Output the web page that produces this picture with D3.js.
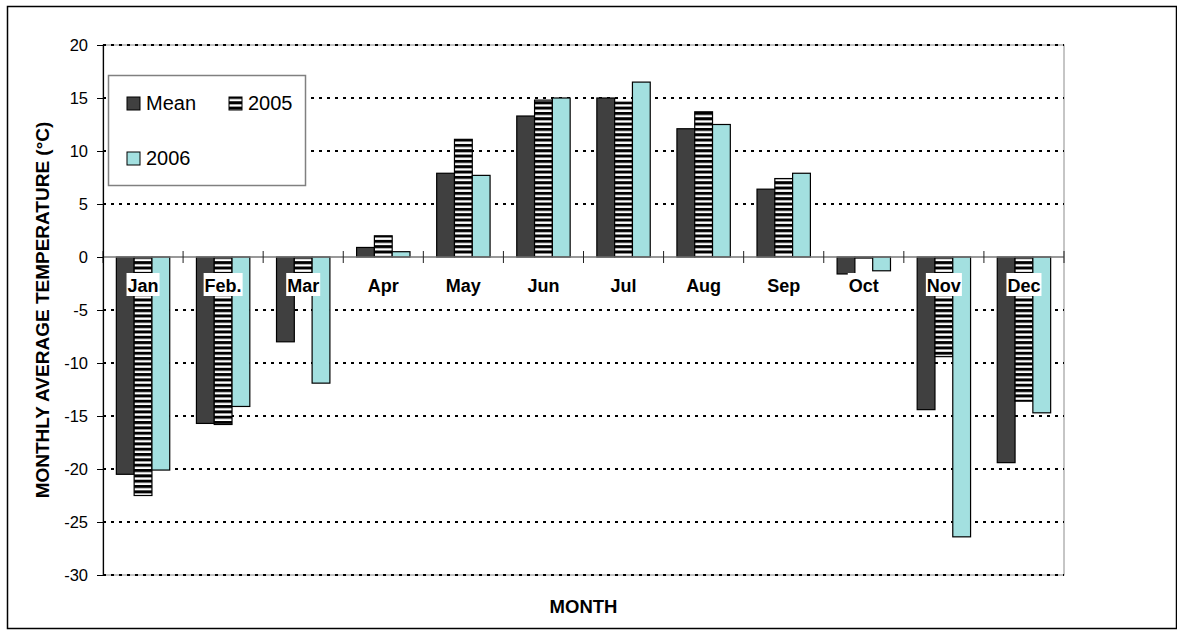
<!DOCTYPE html>
<html>
<head>
<meta charset="utf-8">
<script src="https://cdn.jsdelivr.net/npm/d3@7"></script>
<style>
  body { margin: 0; background: #fff; }
  svg { display: block; font-family: "Liberation Sans", Arial, sans-serif; }
</style>
</head>
<body>
<div id="viz"></div>
<script>
// monthly average temperature
const months = ["Jan", "Feb.", "Mar", "Apr", "May", "Jun", "Jul", "Aug", "Sep", "Oct", "Nov", "Dec"];
const seriesNames = ["Mean", "2005", "2006"];
const meanValues = [-20.5, -15.7, -8.0, 0.9, 7.9, 13.3, 15.0, 12.1, 6.4, -1.6, -14.4, -19.4];
const values2005 = [-22.5, -15.8, -3.0, 2.0, 11.1, 14.8, 14.6, 13.7, 7.4, -0.1, -9.4, -13.6];
const values2006 = [-20.1, -14.1, -11.9, 0.5, 7.7, 15.0, 16.5, 12.5, 7.9, -1.3, -26.4, -14.7];
const yTicks = [20, 15, 10, 5, 0, -5, -10, -15, -20, -25, -30];

const width = 1177, height = 636;
const plot = { left: 103, right: 1064, top: 45, bottom: 575 };

const svg = d3.select("#viz").append("svg")
    .attr("width", width)
    .attr("height", height);

const defs = svg.append("defs");
const stripes = defs.append("pattern")
    .attr("id", "stripes")
    .attr("patternUnits", "userSpaceOnUse")
    .attr("width", 10)
    .attr("height", 5.33);
stripes.append("rect").attr("width", 10).attr("height", 5.33).attr("fill", "#fff");
stripes.append("rect").attr("width", 10).attr("height", 3).attr("fill", "#000");

const fills = { "Mean": "#404040", "2005": "url(#stripes)", "2006": "#a3e0e0" };

// outer frame
svg.append("rect")
    .attr("x", 7.5).attr("y", 6.5)
    .attr("width", 1169).attr("height", 622)
    .attr("fill", "none").attr("stroke", "#000").attr("stroke-width", 1.5);

const x0 = d3.scaleBand()
    .domain(months)
    .range([plot.left, plot.right])
    .paddingInner(0).paddingOuter(0);

const x1 = d3.scaleBand()
    .domain(seriesNames)
    .range([0, x0.bandwidth()])
    .paddingInner(0).paddingOuter(0.75);

const y = d3.scaleLinear()
    .domain([-30, 20])
    .range([plot.bottom, plot.top]);

// plot area border
svg.append("rect")
    .attr("x", plot.left).attr("y", plot.top)
    .attr("width", plot.right - plot.left).attr("height", plot.bottom - plot.top)
    .attr("fill", "none").attr("stroke", "#8c8c8c").attr("stroke-width", 1);

// dotted gridlines
svg.append("g")
    .selectAll("line")
    .data(yTicks.filter(d => d !== 0))
    .join("line")
    .attr("x1", plot.left).attr("x2", plot.right)
    .attr("y1", d => y(d)).attr("y2", d => y(d))
    .attr("stroke", "#000")
    .attr("stroke-width", 2)
    .attr("stroke-dasharray", "3,5");

// bars
const rows = months.map((m, i) => ({
    month: m,
    vals: [
        { key: "Mean", v: meanValues[i] },
        { key: "2005", v: values2005[i] },
        { key: "2006", v: values2006[i] }
    ]
}));

svg.append("g")
    .selectAll("g")
    .data(rows)
    .join("g")
    .attr("transform", d => `translate(${x0(d.month)},0)`)
    .selectAll("rect")
    .data(d => d.vals)
    .join("rect")
    .attr("x", d => x1(d.key))
    .attr("width", x1.bandwidth())
    .attr("y", d => y(Math.max(0, d.v)))
    .attr("height", d => Math.abs(y(d.v) - y(0)))
    .attr("fill", d => fills[d.key])
    .attr("stroke", "#000")
    .attr("stroke-width", 1.2);

// x axis line at zero
svg.append("line")
    .attr("x1", plot.left).attr("x2", plot.right)
    .attr("y1", y(0)).attr("y2", y(0))
    .attr("stroke", "#777").attr("stroke-width", 1.5);

// category boundary ticks
svg.append("g")
    .selectAll("line")
    .data(months.concat(["end"]))
    .join("line")
    .attr("x1", (d, i) => plot.left + i * x0.step())
    .attr("x2", (d, i) => plot.left + i * x0.step())
    .attr("y1", y(0) - 6).attr("y2", y(0) + 6)
    .attr("stroke", "#222").attr("stroke-width", 1);

// y axis
const yAxis = svg.append("g")
    .attr("transform", `translate(${plot.left},0)`)
    .call(d3.axisLeft(y).tickValues(yTicks).tickFormat(d => String(d)).tickSize(6).tickPadding(9));
yAxis.select(".domain").attr("stroke", "#000").attr("stroke-width", 1.2);
yAxis.selectAll(".tick line").attr("stroke", "#000");
yAxis.selectAll(".tick text")
    .attr("font-size", "16.5px")
    .attr("font-family", "Liberation Sans, Arial, sans-serif")
    .attr("fill", "#000");

// month labels with white boxes
const labels = svg.append("g")
    .selectAll("g")
    .data(months)
    .join("g");
labels.append("text")
    .attr("x", d => x0(d) + x0.bandwidth() / 2)
    .attr("y", 291.5)
    .attr("text-anchor", "middle")
    .attr("font-size", "18px")
    .attr("font-weight", "bold")
    .text(d => d);
labels.each(function () {
    const g = d3.select(this);
    const bb = g.select("text").node().getBBox();
    g.insert("rect", "text")
        .attr("x", bb.x - 1).attr("y", 273)
        .attr("width", bb.width + 2).attr("height", 23)
        .attr("fill", "#fff");
});

// axis titles
svg.append("text")
    .attr("transform", `translate(49,${(plot.top + plot.bottom) / 2}) rotate(-90)`)
    .attr("text-anchor", "middle")
    .attr("font-size", "19px")
    .attr("font-weight", "bold")
    .text("MONTHLY AVERAGE TEMPERATURE (°C)");

svg.append("text")
    .attr("x", (plot.left + plot.right) / 2)
    .attr("y", 613)
    .attr("text-anchor", "middle")
    .attr("font-size", "18.5px")
    .attr("font-weight", "bold")
    .text("MONTH");

// legend
const legend = svg.append("g");
legend.append("rect")
    .attr("x", 108.5).attr("y", 75.5)
    .attr("width", 197).attr("height", 110)
    .attr("fill", "#fff").attr("stroke", "#808080").attr("stroke-width", 1.5);

const legendPos = [
    { key: "Mean", x: 127, y: 97 },
    { key: "2005", x: 229, y: 97 },
    { key: "2006", x: 127, y: 152 }
];
legendPos.forEach(p => {
    legend.append("rect")
        .attr("x", p.x).attr("y", p.y)
        .attr("width", 13).attr("height", 13)
        .attr("fill", fills[p.key])
        .attr("stroke", "#000").attr("stroke-width", 1);
    legend.append("text")
        .attr("x", p.x + 19).attr("y", p.y + 13)
        .attr("font-size", "20px")
        .text(p.key);
});
</script>
</body>
</html>
